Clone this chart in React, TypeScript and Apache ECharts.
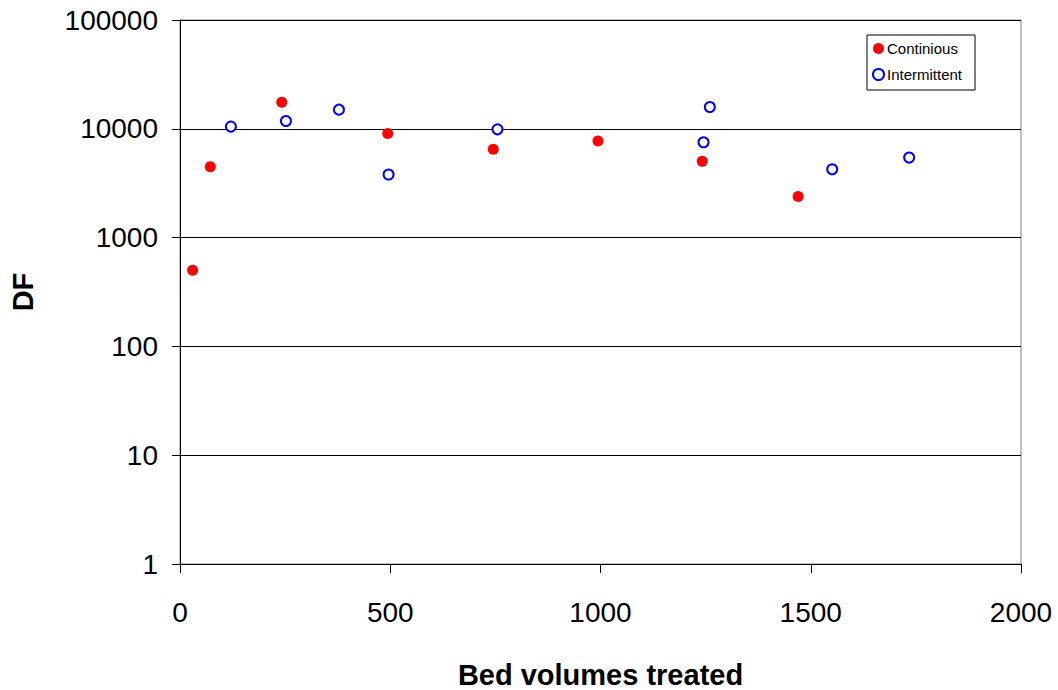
import React, { useEffect, useRef } from "react";
import * as echarts from "echarts";

const continuousX = [30, 72, 242, 494, 745, 994, 1242, 1470];
const continuousY = [500, 4470, 17500, 9040, 6490, 7730, 5030, 2390];
const intermittentX = [121, 252, 378, 496, 755, 1245, 1260, 1551, 1734];
const intermittentY = [10480, 11800, 15000, 3800, 9890, 7520, 15850, 4250, 5440];
const seriesNames = ["Continious", "Intermittent"];
const xTitle = "Bed volumes treated";
const yTitle = "DF";

export default function App() {
  const ref = useRef<HTMLDivElement>(null);
  useEffect(() => {
    if (!ref.current) return;
    const chart = echarts.init(ref.current, null, { renderer: "svg" });
    const font = "Liberation Sans, Arial, sans-serif";
    chart.setOption({
      animation: false,
      backgroundColor: "#ffffff",
      grid: {
        left: 180,
        top: 20,
        right: 37,
        bottom: 126,
        containLabel: false,
        outerBoundsMode: "none",
        show: true,
        borderColor: "#808080",
        borderWidth: 1,
      },
      legend: {
        orient: "vertical",
        left: 867,
        top: 35,
        width: 108,
        padding: [6, 13, 8, 5],
        itemGap: 11,
        itemWidth: 11,
        itemHeight: 11,
        borderColor: "#000",
        borderWidth: 1,
        textStyle: { fontFamily: font, fontSize: 15, color: "#000", padding: [0, 0, 0, -2] },
        data: [
          { name: seriesNames[0], icon: "circle" },
          { name: seriesNames[1], icon: "emptyCircle" },
        ],
      },
      xAxis: {
        type: "value",
        min: 0,
        max: 2000,
        interval: 500,
        name: xTitle,
        nameLocation: "middle",
        nameGap: 96,
        nameTextStyle: { fontFamily: font, fontSize: 29, fontWeight: "bold", color: "#000" },
        axisLine: { show: true, onZero: false, lineStyle: { color: "#000", width: 1 } },
        axisTick: { show: true, inside: false, length: 9, lineStyle: { color: "#000" } },
        axisLabel: {
          fontFamily: font,
          fontSize: 28,
          color: "#000",
          margin: 34,
          formatter: (v: number) => String(Math.round(v)),
        },
        splitLine: { show: false },
      },
      yAxis: {
        type: "log",
        logBase: 10,
        min: 1,
        max: 100000,
        name: yTitle,
        nameLocation: "middle",
        nameRotate: 90,
        nameGap: 143,
        nameTextStyle: { fontFamily: font, fontSize: 29, fontWeight: "bold", color: "#000" },
        axisLine: { show: true, lineStyle: { color: "#000", width: 1 } },
        axisTick: { show: true, inside: false, length: 8, lineStyle: { color: "#000" } },
        axisLabel: {
          fontFamily: font,
          fontSize: 28,
          color: "#000",
          margin: 22,
          formatter: (v: number) => String(Math.round(v)),
        },
        splitLine: { show: true, lineStyle: { color: "#000", width: 1 } },
        minorSplitLine: { show: false },
      },
      series: [
        {
          name: seriesNames[0],
          type: "scatter",
          symbol: "circle",
          symbolSize: 11,
          itemStyle: { color: "#ff0000", opacity: 1 },
          data: continuousX.map((x, i) => [x, continuousY[i]]),
        },
        {
          name: seriesNames[1],
          type: "scatter",
          symbol: "emptyCircle",
          symbolSize: 10,
          itemStyle: { color: "#0000ff", borderWidth: 2, opacity: 1 },
          data: intermittentX.map((x, i) => [x, intermittentY[i]]),
        },
      ],
    });
    return () => chart.dispose();
  }, []);
  return (
    <div
      ref={ref}
      style={{ position: "fixed", left: 0, top: 0, width: 1058, height: 690, background: "#fff" }}
    />
  );
}
